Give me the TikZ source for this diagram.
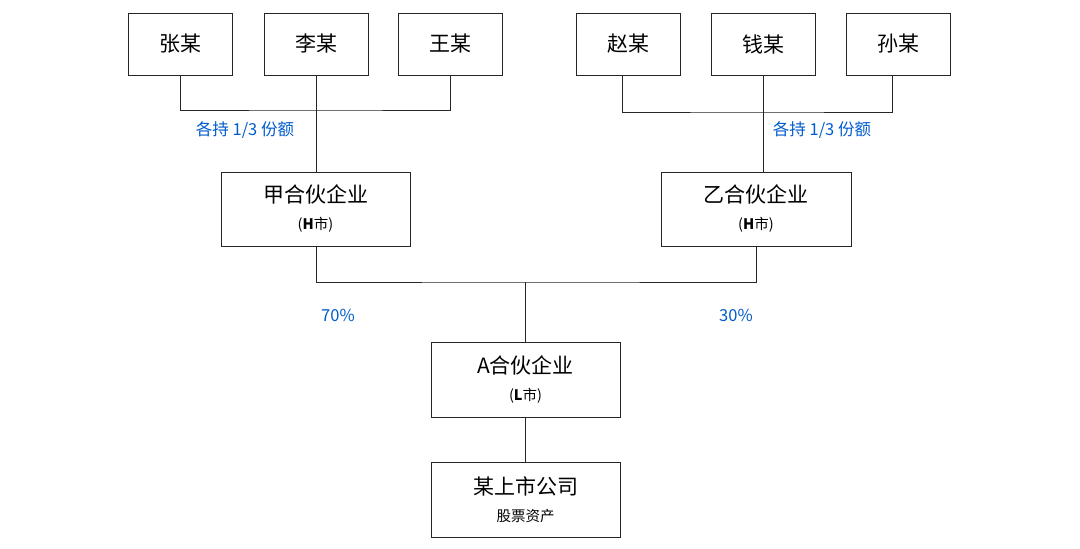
\documentclass[tikz,border=0pt]{standalone}
\usepackage{fontspec}
\setmainfont{Noto Sans CJK SC}
\begin{document}
\begin{tikzpicture}[x=1pt,y=-1pt,
 box/.style={draw=black!85,line width=1pt,minimum width=#1,inner sep=0pt,align=center},
 two/.style={font=\fontsize{21}{27}\selectfont},
 ln/.style={draw=black!85,line width=1pt},
 lab/.style={text=blue!55!cyan!80!black,font=\fontsize{16.5}{19}\selectfont}]
\useasboundingbox (0,0) rectangle (1080,549);
\fill[white] (0,0) rectangle (1080,549);
\foreach \n/\t/\x in {z/张某/180.5,l/李某/316,w/王某/450,zh/赵某/628,q/钱某/763,s/孙某/898}
  \node[box=104pt,minimum height=62pt,font=\fontsize{21}{24}\selectfont] (\n) at (\x,44) {\t};
\node[box=189pt,minimum height=74pt,two] (jia) at (315.5,209) {甲合伙企业\\{\fontsize{14.5}{17}\selectfont (\textbf{H}市)}};
\node[box=190pt,minimum height=74pt,two] (yi) at (756,209) {乙合伙企业\\{\fontsize{14.5}{17}\selectfont (\textbf{H}市)}};
\node[box=189pt,minimum height=75pt,two] (a) at (525.5,379.5) {A合伙企业\\{\fontsize{14.5}{17}\selectfont (\textbf{L}市)}};
\node[box=189pt,minimum height=75pt,two] (co) at (525.5,499.5) {某上市公司\\{\fontsize{14.5}{17}\selectfont 股票资产}};
\coordinate (j1) at (316,110); \coordinate (j2) at (757,112);
\draw[ln] (z.south -| 180,0) |- (j1) -| (w.south -| 450,0);
\draw[ln] (l) -- (jia.north -| l);
\draw[ln] (zh.south -| 622,0) |- (j2) -| (s.south -| 892,0);
\draw[ln] (q) -- (yi.north -| q);
\coordinate (m) at (525,282);
\draw[ln] (jia.south -| 316,0) |- (m) -| (yi.south -| 756,0);
\draw[ln] (m) -- (a.north -| m);
\draw[ln] (a) -- (co);
\node[lab] at (245,130) {各持 1/3 份额};
\node[lab] at (822,130) {各持 1/3 份额};
\node[lab] at (338,315) {70\%};
\node[lab] at (736,315) {30\%};
\end{tikzpicture}
\end{document}
